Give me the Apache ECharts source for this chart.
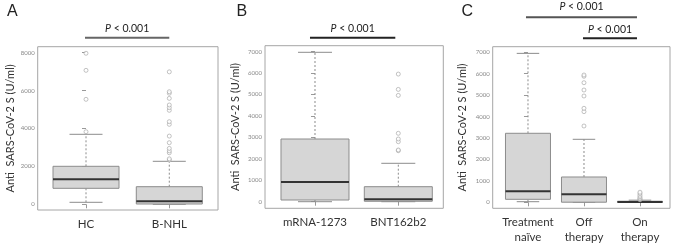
<!DOCTYPE html>
<html>
<head>
<meta charset="UTF-8">
<title>Anti SARS-CoV-2 S boxplots</title>
<script src="https://cdn.jsdelivr.net/npm/echarts@6/dist/echarts.min.js"></script>
<style>
  html, body { margin: 0; padding: 0; background: #fff; }
  #chart { width: 677px; height: 245px; }
</style>
</head>
<body>
<div id="chart"></div>
<script>
// categories per panel
var catsA = ['HC', 'B-NHL'];
var catsB = ['mRNA-1273', 'BNT162b2'];
var catsC = ['Treatment\nnaïve', 'Off\ntherapy', 'On\ntherapy'];

// box stats: [min, Q1, median, Q3, max]
var boxA = [[105, 844, 1319, 2005, 3694], [0, 15, 158, 929, 2269]];
var boxB = [[0, 79, 919, 2926, 6972], [0, 20, 110, 700, 1792]];
var boxC = [[28, 140, 513, 3220, 6950], [0, 5, 373, 1181, 2940], [0, 0, 10, 50, 100]];

// outliers per category
var outA = [[3830, 5540, 7070, 7970],
  [2340, 2400, 2720, 2820, 2950, 3250, 3600, 4220, 4360, 4960, 5100, 5240, 5590, 5860, 5940, 6990]];
var outB = [[], [2380, 2413, 2800, 2926, 3192, 4961, 5241, 5955]];
var outC = [[], [3560, 4230, 4387, 4960, 5240, 5580, 5880, 5940], [120, 160, 200, 260, 330, 410, 470]];

// tick labels
var ticksA = [0, 2000, 4000, 6000, 8000];
var ticksBC = [0, 1000, 2000, 3000, 4000, 5000, 6000, 7000];

var yTitle = 'Anti  SARS-CoV-2 S (U/ml)';
var pText = '{i|P} < 0.001';

var FONT = 'Lato';

function boxData(stats) {
  return stats.map(function (s, i) { return [i].concat(s); });
}
function outData(outs) {
  var res = [];
  outs.forEach(function (list, i) {
    list.forEach(function (v) { res.push([i, v]); });
  });
  return res;
}

function renderBox(boxW) {
  return function (params, api) {
    var x = api.value(0);
    var pMin = api.coord([x, api.value(1)]);
    var pQ1 = api.coord([x, api.value(2)]);
    var pMed = api.coord([x, api.value(3)]);
    var pQ3 = api.coord([x, api.value(4)]);
    var pMax = api.coord([x, api.value(5)]);
    var cx = pMed[0];
    var hw = boxW / 2, cw = boxW / 4;
    var dash = { stroke: '#8c8c8c', lineWidth: 1, lineDash: [2, 2] };
    var solid = { stroke: '#8c8c8c', lineWidth: 1 };
    return {
      type: 'group',
      children: [
        { type: 'line', shape: { x1: cx, y1: pQ3[1], x2: cx, y2: pMax[1] }, style: dash },
        { type: 'line', shape: { x1: cx, y1: pMin[1], x2: cx, y2: pQ1[1] }, style: dash },
        { type: 'line', shape: { x1: cx - cw, y1: pMax[1], x2: cx + cw, y2: pMax[1] }, style: solid },
        { type: 'line', shape: { x1: cx - cw, y1: pMin[1], x2: cx + cw, y2: pMin[1] }, style: solid },
        { type: 'rect', shape: { x: cx - hw, y: pQ3[1], width: boxW, height: pQ1[1] - pQ3[1] },
          style: { fill: '#d6d6d6', stroke: '#8c8c8c', lineWidth: 1 } },
        { type: 'line', shape: { x1: cx - hw, y1: pMed[1], x2: cx + hw, y2: pMed[1] },
          style: { stroke: '#333', lineWidth: 2 } }
      ]
    };
  };
}

function xAxisFor(idx, cats, min, max) {
  var vals = cats.map(function (c, i) { return i; });
  return {
    type: 'value', gridIndex: idx, min: min, max: max,
    splitLine: { show: false },
    axisLine: { show: false },
    axisTick: { show: true, customValues: vals, length: 4, lineStyle: { color: '#999' } },
    axisLabel: {
      customValues: vals, margin: 7, fontFamily: FONT, fontSize: 11.5, color: '#333', lineHeight: 14.5,
      formatter: function (v) { return cats[Math.round(v)]; }
    }
  };
}

function yAxisFor(idx, ticks, min, max, gap) {
  return {
    type: 'value', gridIndex: idx, min: min, max: max,
    splitLine: { show: false },
    axisLine: { show: false },
    axisTick: { show: true, customValues: ticks, length: 4, lineStyle: { color: '#999' } },
    axisLabel: { customValues: ticks, margin: 3, fontFamily: FONT, fontSize: 6, color: '#888',
      formatter: function (v) { return String(v); } },
    name: yTitle, nameLocation: 'middle', nameGap: gap,
    nameTextStyle: { fontFamily: FONT, fontSize: 11, color: '#333' }
  };
}

var gridStyle = { show: true, borderColor: '#a6a6a6', borderWidth: 1, backgroundColor: 'transparent' };
var outStyle = { color: '#fff', borderColor: '#a0a0a0', borderWidth: 0.8 };

var option = {
  animation: false,
  grid: [
    Object.assign({ left: 37.7, top: 46.7, width: 180.3, height: 163.3 }, gridStyle),
    Object.assign({ left: 265, top: 45.7, width: 178.3, height: 162.6 }, gridStyle),
    Object.assign({ left: 492.7, top: 46.7, width: 177.3, height: 161.6 }, gridStyle)
  ],
  xAxis: [
    xAxisFor(0, catsA, -0.58, 1.585),
    xAxisFor(1, catsB, -0.60, 1.54),
    xAxisFor(2, catsC, -0.63, 2.536)
  ],
  yAxis: [
    yAxisFor(0, ticksA, -301, 8317, 22),
    yAxisFor(1, ticksBC, -308, 7280, 24),
    yAxisFor(2, ticksBC, -280, 7261, 25)
  ],
  series: [
    { type: 'custom', xAxisIndex: 0, yAxisIndex: 0, renderItem: renderBox(66), data: boxData(boxA) },
    { type: 'custom', xAxisIndex: 1, yAxisIndex: 1, renderItem: renderBox(68), data: boxData(boxB) },
    { type: 'custom', xAxisIndex: 2, yAxisIndex: 2, renderItem: renderBox(45), data: boxData(boxC) },
    { type: 'scatter', xAxisIndex: 0, yAxisIndex: 0, data: outData(outA), symbolSize: 4, itemStyle: outStyle },
    { type: 'scatter', xAxisIndex: 1, yAxisIndex: 1, data: outData(outB), symbolSize: 4, itemStyle: outStyle },
    { type: 'scatter', xAxisIndex: 2, yAxisIndex: 2, data: outData(outC), symbolSize: 4, itemStyle: outStyle }
  ]
};

var chart = echarts.init(document.getElementById('chart'), null, { renderer: 'canvas' });
chart.setOption(option);

// panel letters and significance bars
function px(grid, i) { return chart.convertToPixel({ gridIndex: grid }, [i, 0])[0]; }

function sigBar(x1, x2, yLine, yText, color) {
  return [
    { type: 'line', shape: { x1: x1, y1: yLine, x2: x2, y2: yLine },
      style: { stroke: color, lineWidth: 2 } },
    { type: 'text', x: (x1 + x2) / 2, y: yText,
      style: { text: pText, fontFamily: FONT, fontSize: 10.5, fill: '#222', align: 'center', verticalAlign: 'middle',
        rich: { i: { fontStyle: 'italic', fontFamily: FONT, fontSize: 10.5, fill: '#222' } } } }
  ];
}

function letter(t, x) {
  return { type: 'text', x: x, y: 4, style: { text: t, fontFamily: 'Liberation Sans', fontSize: 16, fill: '#222' } };
}

var g = [letter('A', 7), letter('B', 236.5), letter('C', 461.5)];
g = g.concat(sigBar(px(0, 0) - 1, px(0, 1), 37.7, 28.3, '#666'));
g = g.concat(sigBar(px(1, 0) - 5, px(1, 1) - 3, 37.7, 28.3, '#222'));
g = g.concat(sigBar(px(2, 0) - 2, px(2, 2) - 3, 17.3, 7, '#555'));
g = g.concat(sigBar(px(2, 1) - 1, px(2, 2) - 3, 38.3, 29.7, '#222'));

chart.setOption({ graphic: g });
</script>
</body>
</html>
